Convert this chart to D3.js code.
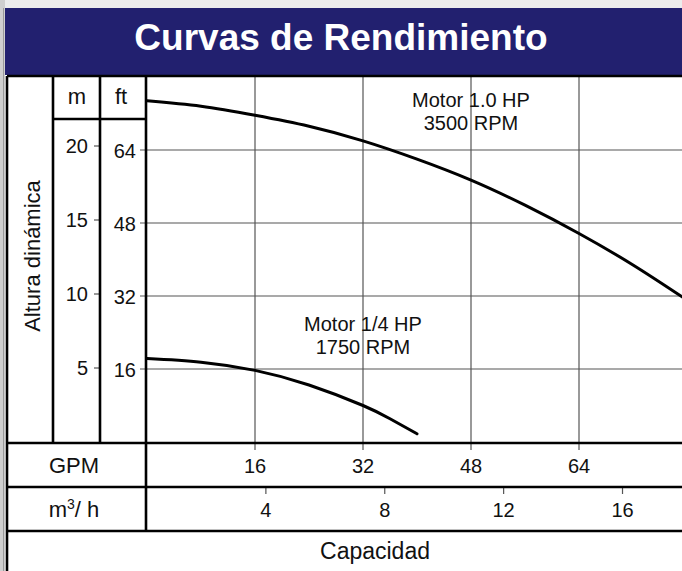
<!DOCTYPE html>
<html>
<head>
<meta charset="utf-8">
<script src="https://cdn.jsdelivr.net/npm/d3@7"></script>
<style>
  html, body { margin: 0; padding: 0; background: #fff; }
  svg { display: block; font-family: "Liberation Sans", Arial, sans-serif; }
</style>
</head>
<body>
<div id="chart"></div>
<script>
// values
const gpmTicks = [16, 32, 48, 64];
const m3hTicks = [4, 8, 12, 16];
const ftTicks = [16, 32, 48, 64];
const mTicks = [5, 10, 15, 20];

const motor1Gpm = [0, 8, 16, 24, 32, 40, 48, 56, 64, 72, 80];
const motor1Ft = [74.8, 73.6, 71.6, 69.2, 66, 62, 57.4, 51.9, 45.7, 38.8, 31.1];

const motorQGpm = [0, 8, 16, 24, 32, 36, 40];
const motorQFt = [18.3, 17.5, 15.7, 12.5, 8.0, 5.1, 1.8];

const labels = [
  { lines: ["Motor 1.0 HP", "3500 RPM"], gpm: 48, ft: 73.5 },
  { lines: ["Motor 1/4 HP", "1750 RPM"], gpm: 32, ft: 24.4 },
];

const W = 682, H = 571;
const frame = { left: 7, top: 76, colM: 53, colFt: 100, plotL: 146, right: 682,
  headB: 119, plotB: 443, gpmB: 487, m3hB: 531 };

const x = d3.scaleLinear().domain([0, 64]).range([147, 579]);
const xM3h = d => x(d * 4.4029);
const y = d3.scaleLinear().domain([0, 64]).range([442, 150]);
const yM = d3.scaleLinear().domain([0, 20]).range([442, 146]);

const svg = d3.select("#chart").append("svg")
  .attr("width", W).attr("height", H);

// page chrome
svg.append("rect").attr("width", W).attr("height", 8).attr("fill", "#ececec");
svg.append("rect").attr("width", 5).attr("height", H).attr("fill", "#cfcfcf");
svg.append("line").attr("x1", 3.5).attr("x2", 3.5).attr("y1", 8).attr("y2", H)
  .attr("stroke", "#9a9a9a").attr("stroke-width", 1);

// title bar
svg.append("rect").attr("x", 5).attr("y", 8).attr("width", W - 5).attr("height", 67)
  .attr("fill", "#22206f");
svg.append("text").attr("x", 341).attr("y", 50)
  .attr("text-anchor", "middle").attr("fill", "#fff")
  .style("font-size", "37px").style("font-weight", "bold")
  .text("Curvas de Rendimiento");

// grid
const grid = svg.append("g").attr("stroke", "#555").attr("stroke-width", 1.2);
grid.selectAll(".vx").data(gpmTicks).join("line")
  .attr("x1", d => x(d)).attr("x2", d => x(d))
  .attr("y1", frame.top).attr("y2", frame.plotB + 7);
grid.selectAll(".hy").data(ftTicks).join("line")
  .attr("x1", frame.plotL - 6).attr("x2", W)
  .attr("y1", d => y(d)).attr("y2", d => y(d));
grid.selectAll(".mt").data(mTicks).join("line")
  .attr("x1", frame.colFt - 6).attr("x2", frame.colFt)
  .attr("y1", d => yM(d)).attr("y2", d => yM(d));
grid.selectAll(".m3").data(m3hTicks).join("line")
  .attr("x1", d => xM3h(d)).attr("x2", d => xM3h(d))
  .attr("y1", frame.gpmB).attr("y2", frame.gpmB + 7);

// curves
svg.append("clipPath").attr("id", "plotclip").append("rect")
  .attr("x", frame.plotL).attr("y", frame.top).attr("width", W - frame.plotL).attr("height", frame.plotB - frame.top);

const line = d3.line().x(d => x(d[0])).y(d => y(d[1])).curve(d3.curveNatural);
const curves = svg.append("g").attr("clip-path", "url(#plotclip)")
  .attr("fill", "none").attr("stroke", "#000").attr("stroke-width", 3).attr("stroke-linecap", "round");
curves.append("path").attr("d", line(d3.zip(motor1Gpm, motor1Ft)));
curves.append("path").attr("d", line(d3.zip(motorQGpm, motorQFt)));

// curve labels
labels.forEach(l => {
  svg.append("text").attr("text-anchor", "middle").attr("fill", "#111")
    .style("font-size", "20px")
    .selectAll("tspan").data(l.lines).join("tspan")
    .attr("x", x(l.gpm)).attr("y", (d, i) => y(l.ft) + i * 23)
    .text(d => d);
});

// frame lines
const fr = svg.append("g").attr("stroke", "#000").attr("stroke-width", 2.6);
fr.append("line").attr("x1", frame.left).attr("x2", W).attr("y1", frame.top).attr("y2", frame.top);
fr.append("line").attr("x1", frame.left).attr("x2", frame.left).attr("y1", frame.top).attr("y2", H);
fr.append("line").attr("x1", frame.colM).attr("x2", frame.colM).attr("y1", frame.top).attr("y2", frame.plotB);
fr.append("line").attr("x1", frame.colFt).attr("x2", frame.colFt).attr("y1", frame.top).attr("y2", frame.plotB);
fr.append("line").attr("x1", frame.plotL).attr("x2", frame.plotL).attr("y1", frame.top).attr("y2", frame.m3hB);
fr.append("line").attr("x1", frame.colM).attr("x2", frame.plotL).attr("y1", frame.headB).attr("y2", frame.headB);
[frame.plotB, frame.gpmB, frame.m3hB].forEach(v => {
  fr.append("line").attr("x1", frame.left).attr("x2", W).attr("y1", v).attr("y2", v);
});

// axis texts
const txt = svg.append("g").attr("fill", "#111").style("font-size", "20px");
txt.append("text").attr("x", 77).attr("y", 104).attr("text-anchor", "middle").style("font-size", "22px").text("m");
txt.append("text").attr("x", 121).attr("y", 104).attr("text-anchor", "middle").style("font-size", "22px").text("ft");
txt.selectAll(".ml").data(mTicks).join("text")
  .attr("x", 88).attr("y", d => yM(d) + 7).attr("text-anchor", "end").text(d => d);
txt.selectAll(".fl").data(ftTicks).join("text")
  .attr("x", 136).attr("y", d => y(d) + 8).attr("text-anchor", "end").text(d => d);
txt.selectAll(".gl").data(gpmTicks).join("text")
  .attr("x", d => x(d)).attr("y", 473).attr("text-anchor", "middle").text(d => d);
txt.selectAll(".cl").data(m3hTicks).join("text")
  .attr("x", d => xM3h(d)).attr("y", 517).attr("text-anchor", "middle").text(d => d);

txt.append("text").attr("x", 74).attr("y", 473).attr("text-anchor", "middle").style("font-size", "22px").text("GPM");
const m3 = txt.append("text").attr("x", 74).attr("y", 517).attr("text-anchor", "middle").style("font-size", "22px");
m3.append("tspan").text("m");
m3.append("tspan").attr("dy", -8).style("font-size", "14px").text("3");
m3.append("tspan").attr("dy", 8).text("/ h");
txt.append("text").attr("x", 375).attr("y", 559).attr("text-anchor", "middle").style("font-size", "23px").text("Capacidad");
txt.append("text").attr("transform", "translate(40,256) rotate(-90)")
  .attr("text-anchor", "middle").style("font-size", "22px").text("Altura dinámica");
</script>
</body>
</html>
